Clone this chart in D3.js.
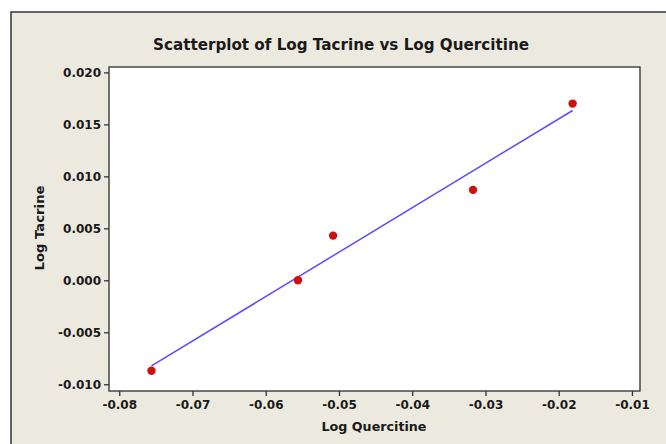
<!DOCTYPE html>
<html><head><meta charset="utf-8">
<script src="https://cdn.jsdelivr.net/npm/d3@7"></script>
<style>
html,body{margin:0;padding:0;background:#fff;}
svg{display:block;}
text{font-family:Tahoma,"DejaVu Sans",sans-serif;font-weight:bold;fill:#1a1a1a;}
</style></head>
<body>
<script>
const logQuercitine = [-0.0756, -0.0556, -0.0508, -0.0317, -0.0181];
const logTacrine    = [-0.0087, 0.0000, 0.0043, 0.0087, 0.0170];
const xTicks = [-0.08, -0.07, -0.06, -0.05, -0.04, -0.03, -0.02, -0.01];
const yTicks = [-0.010, -0.005, 0.000, 0.005, 0.010, 0.015, 0.020];
const titleText = "Scatterplot of Log Tacrine vs Log Quercitine";
const xTitle = "Log Quercitine";
const yTitle = "Log Tacrine";

const W = 666, H = 444;
const svg = d3.select("body").append("svg").attr("width", W).attr("height", H);

// outer panel
svg.append("rect").attr("x", 11).attr("y", 12).attr("width", W).attr("height", H)
  .attr("fill", "#ECE9DF").attr("stroke", "#333").attr("stroke-width", 1.5);

const L = 109, R = 640, T = 67, B = 391;
const x = d3.scaleLinear().domain([-0.0814, -0.0089]).range([L, R]);
const y = d3.scaleLinear().domain([-0.01065, 0.02052]).range([B, T]);

svg.append("rect").attr("x", L).attr("y", T).attr("width", R - L).attr("height", B - T)
  .attr("fill", "#fff").attr("stroke", "#3a3a3a").attr("stroke-width", 1.4);

const xAxis = svg.append("g").attr("transform", `translate(0,${B})`)
  .call(d3.axisBottom(x).tickValues(xTicks).tickSize(5).tickPadding(4).tickFormat(d3.format(".2f")));
const yAxis = svg.append("g").attr("transform", `translate(${L},0)`)
  .call(d3.axisLeft(y).tickValues(yTicks).tickSize(5).tickPadding(3).tickFormat(d3.format(".3f")));
[xAxis, yAxis].forEach(g => {
  g.select(".domain").remove();
  g.selectAll(".tick line").attr("stroke", "#333").attr("stroke-width", 1.3);
  g.selectAll(".tick text").attr("font-size", 12).attr("font-family", "Tahoma,'DejaVu Sans',sans-serif")
    .attr("font-weight", "bold").attr("fill", "#1a1a1a").text(function(){return this.textContent.replace("−","-");});
});

// regression line (least squares fit of the data)
const mx = d3.mean(logQuercitine), my = d3.mean(logTacrine);
const sxy = d3.sum(logQuercitine, (v, i) => (v - mx) * (logTacrine[i] - my));
const sxx = d3.sum(logQuercitine, v => (v - mx) ** 2);
const slope = sxy / sxx, icpt = my - slope * mx;
const xe = d3.extent(logQuercitine);
svg.append("line")
  .attr("x1", x(xe[0])).attr("y1", y(icpt + slope * xe[0]))
  .attr("x2", x(xe[1])).attr("y2", y(icpt + slope * xe[1]))
  .attr("stroke", "#5a4dff").attr("stroke-width", 1.5);

svg.append("g").selectAll("circle").data(logQuercitine).join("circle")
  .attr("cx", d => x(d)).attr("cy", (d, i) => y(logTacrine[i])).attr("r", 4.2)
  .attr("fill", "#cc1111");

svg.append("text").attr("x", 341).attr("y", 50).attr("text-anchor", "middle")
  .attr("font-size", 16).attr("textLength", 376).attr("lengthAdjust", "spacingAndGlyphs").text(titleText);
svg.append("text").attr("x", 374).attr("y", 431).attr("text-anchor", "middle")
  .attr("font-size", 13).attr("textLength", 105).attr("lengthAdjust", "spacingAndGlyphs").text(xTitle);
svg.append("text").attr("transform", "translate(44,228) rotate(-90)").attr("text-anchor", "middle")
  .attr("font-size", 13).attr("textLength", 85).attr("lengthAdjust", "spacingAndGlyphs").text(yTitle);
</script>
</body></html>
